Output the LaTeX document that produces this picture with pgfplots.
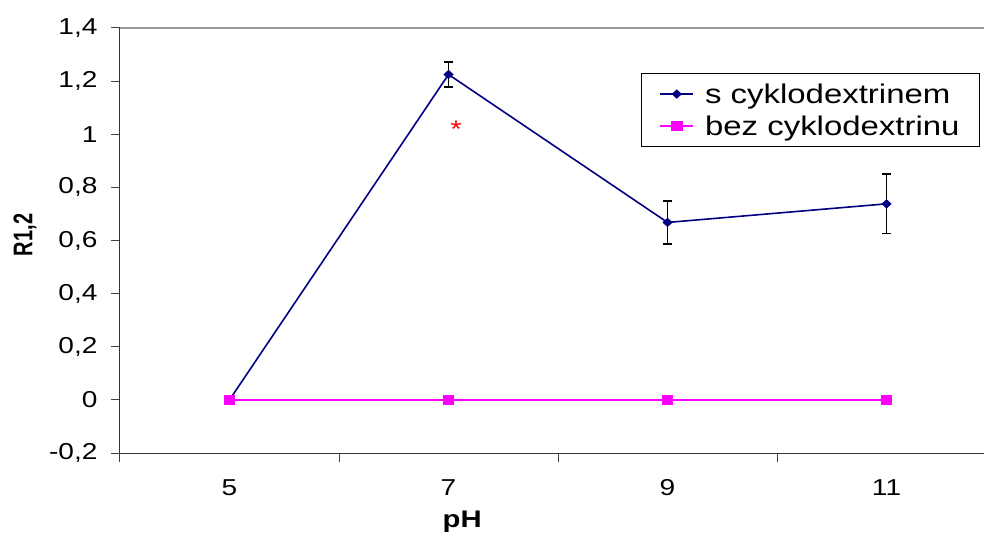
\documentclass[border=0pt]{standalone}
\usepackage{fontspec}
\setmainfont[FakeStretch=1.22]{Liberation Sans}
\newfontfamily\plainfont{Liberation Sans}
\usepackage{graphicx}
\usepackage{pgfplots}
\pgfplotsset{compat=1.18}
\definecolor{navy}{RGB}{0,0,128}
\definecolor{mag}{RGB}{255,0,255}
\begin{document}
\begin{tikzpicture}
\useasboundingbox (-120bp,-86bp) rectangle (864bp,453bp);
\begin{axis}[
  at={(0,0)}, anchor=south west,
  scale only axis, width=864bp, height=425bp,
  xmin=4, xmax=11.89, ymin=-0.2, ymax=1.4,
  axis x line*=bottom, axis y line*=left,
  axis line style={black!80, line width=1bp},
  xtick={4,6,8,10}, xticklabels={},
  extra x ticks={5,7,9,11},
  extra x tick labels={5,7,9,11},
  extra x tick style={major tick length=0pt},
  ytick={-0.2,0,0.2,0.4,0.6,0.8,1,1.2,1.4},
  /pgf/number format/use comma,
  /pgf/number format/fixed,
  /pgf/number format/precision=1,
  /pgf/number format/assume math mode=true,
  tick style={black!75, line width=1bp},
  major tick length=9bp, tick align=outside,
  tick label style={font=\fontsize{23bp}{27bp}\selectfont},
  xticklabel style={yshift=-23bp},
  yticklabel style={xshift=-10bp},
  xlabel={\bfseries pH},
  xlabel style={at={(axis description cs:0.396,-0.162)}, anchor=center, font=\fontsize{24bp}{28bp}\selectfont},
  ylabel={\plainfont\bfseries\scalebox{1}[1.35]{R1,2}},
  ylabel style={at={(axis description cs:-0.110,0.513)}, anchor=center, font=\fontsize{20bp}{24bp}\selectfont},
  legend style={at={(0.603,0.894)}, anchor=north west, draw=black, line width=1bp,
    font=\fontsize{27bp}{31bp}\selectfont, inner xsep=18bp, inner ysep=8bp, row sep=7bp,
    /tikz/every even column/.append style={column sep=4bp},
    /tikz/every odd column/.append style={column sep=9bp}},
  legend cell align=left,
  legend image code/.code={\draw[mark repeat=2,mark phase=2,#1] plot coordinates {(0bp,0bp) (16.5bp,0bp) (33bp,0bp)};},
]
\draw[black!40, line width=1.5bp] (rel axis cs:0,1) -- (rel axis cs:1,1);
\addplot[only marks, mark=none, forget plot,
  error bars/.cd, y dir=both, y explicit,
  error bar style={draw=black, line width=1.4bp},
  error mark options={rotate=90, draw=black, mark size=4.5bp, line width=1.4bp}]
  coordinates {(7,1.225) +- (0,0.047) (9,0.668) +- (0,0.081) (11,0.738) +- (0,0.112)};
\addplot[navy, line width=1.6bp, mark=diamond*, mark size=4.3bp, mark options={navy, line width=0.5bp, xscale=1.45}]
  coordinates {(5,0) (7,1.225) (9,0.668) (11,0.738)};
\addlegendentry{s cyklodextrinem}
\addplot[mag, line width=1.6bp, mark=square*, mark size=4.4bp, mark options={mag, line width=0.5bp, xscale=1.15}]
  coordinates {(5,0) (7,0) (9,0) (11,0)};
\addlegendentry{bez cyklodextrinu}
\node[red, font=\fontsize{24bp}{28bp}\selectfont] at (axis cs:7.07,1.02) {*};
\end{axis}
\end{tikzpicture}
\end{document}
